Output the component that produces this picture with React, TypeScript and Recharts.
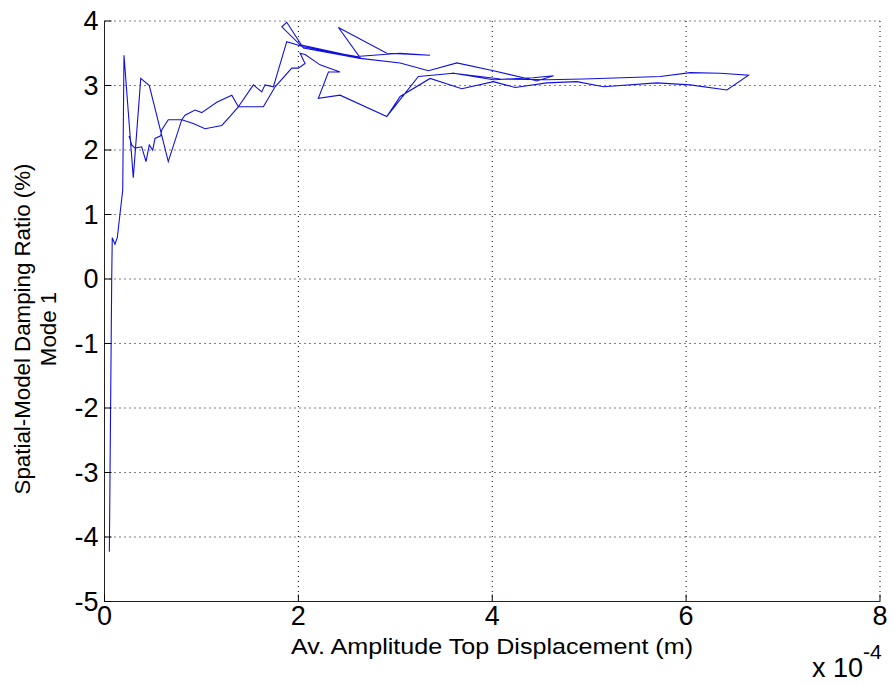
import React from "react";
import { LineChart, Line, XAxis, YAxis, CartesianGrid } from "recharts";

const xValues = [
  0.05, 0.074, 0.08, 0.108, 0.132, 0.188, 0.201, 0.297, 0.374, 0.462, 0.658, 0.797,
  0.831, 0.934, 1.003, 1.158, 1.313, 1.381, 1.536, 1.622, 1.656, 1.742, 1.88, 2.052,
  2.293, 2.603, 3.05, 3.359, 2.912, 2.413, 2.637, 2.018, 1.829, 1.88, 2.052, 2.637,
  3.05, 3.342, 3.635, 4.012, 4.46, 4.632, 4.422, 4.012, 3.6, 3.238, 2.912, 3.05,
  3.359, 3.686, 4.012, 4.236, 4.563, 4.873, 5.148, 5.699, 6.042, 6.421, 6.644, 6.352,
  6.042, 5.733, 4.941, 4.563, 4.082, 3.6, 3.238, 2.912, 2.43, 2.206, 2.31, 2.43,
  2.224, 2.069, 2.018, 2.069, 2.0, 1.932, 1.76, 1.639, 1.381, 1.295, 1.21, 1.037,
  0.916, 0.797, 0.658, 0.59, 0.58, 0.521, 0.497, 0.462, 0.428, 0.384, 0.315, 0.281,
  0.253,
];
const yValues = [
  -4.23, -0.05, 0.64, 0.54, 0.64, 1.38, 3.47, 1.57, 3.11, 3.0, 1.82, 2.47,
  2.54, 2.62, 2.58, 2.74, 2.85, 2.67, 3.01, 2.9, 3.01, 2.98, 3.68, 3.6,
  3.53, 3.45, 3.5, 3.47, 3.5, 3.9, 3.43, 3.63, 3.91, 3.98, 3.58, 3.42,
  3.35, 3.23, 3.35, 3.23, 3.07, 3.15, 3.12, 3.09, 3.19, 3.14, 2.52, 2.83,
  3.11, 2.95, 3.06, 2.97, 3.04, 3.06, 2.98, 3.04, 3.01, 2.93, 3.16, 3.19,
  3.2, 3.14, 3.1, 3.09, 3.1, 3.19, 3.14, 2.52, 2.85, 2.8, 3.21, 3.21,
  3.32, 3.48, 3.5, 3.34, 3.27, 3.27, 2.98, 2.67, 2.67, 2.52, 2.38, 2.33,
  2.41, 2.47, 2.47, 2.31, 2.22, 2.18, 2.0, 2.08, 1.82, 2.05, 2.03, 2.08,
  2.22,
];
const xTicks = [0, 2, 4, 6, 8];
const yTicks = [-5, -4, -3, -2, -1, 0, 1, 2, 3, 4];
const xLabel = "Av. Amplitude Top Displacement (m)";
const yLabel1 = "Spatial-Model Damping Ratio (%)";
const yLabel2 = "Mode 1";

const data = xValues.map((x, i) => ({ x, y: yValues[i] }));

const FONT = "'Liberation Sans', Arial, sans-serif";
const W = 879;
const H = 677;

const XTick = (props: any) => {
  const { x, y, payload } = props;
  return (
    <g>
      <line x1={x} y1={y} x2={x} y2={y - 7} stroke="#000" strokeWidth={1} />
      <text x={x} y={y + 14} textAnchor="middle" dominantBaseline="central" fontFamily={FONT} fontSize={27} fill="#000">
        {payload.value}
      </text>
    </g>
  );
};

const YTick = (props: any) => {
  const { x, y, payload } = props;
  return (
    <g>
      <line x1={x} y1={y} x2={x + 7} y2={y} stroke="#000" strokeWidth={1} />
      <text x={x - 6} y={y} textAnchor="end" dominantBaseline="central" fontFamily={FONT} fontSize={27} fill="#000">
        {payload.value}
      </text>
    </g>
  );
};

export default function App() {
  return (
    <div style={{ position: "relative", width: W, height: H, background: "#fff" }}>
      <style>{`.recharts-surface { overflow: visible; }`}</style>
      <LineChart width={W} height={H} data={data} margin={{ top: 13, right: 7, left: 0, bottom: 8 }}>
        <CartesianGrid stroke="#000" strokeDasharray="1 4" strokeWidth={1} />
        <XAxis
          type="number"
          dataKey="x"
          domain={[0, 8]}
          ticks={xTicks}
          height={75.5}
          tickSize={0}
          tickMargin={0}
          tickLine={false}
          axisLine={{ stroke: "#222" }}
          tick={<XTick />}
          interval={0}
        />
        <YAxis
          type="number"
          dataKey="y"
          domain={[-5, 4]}
          ticks={yTicks}
          width={96.5}
          tickSize={0}
          tickMargin={0}
          tickLine={false}
          axisLine={{ stroke: "#222" }}
          tick={<YTick />}
          interval={0}
        />
        <Line
          type="linear"
          dataKey="y"
          stroke="#1010e0"
          strokeWidth={1.1}
          dot={false}
          isAnimationActive={false}
        />
      </LineChart>
      <svg width={W} height={H} style={{ position: "absolute", left: 0, top: 0, pointerEvents: "none", overflow: "visible" }}>
        <text x={484} y={638} textAnchor="middle" dominantBaseline="central" fontFamily={FONT} fontSize={22.5} fill="#000" textLength={402} lengthAdjust="spacingAndGlyphs">
          {xLabel}
        </text>
        <text transform="translate(14,321) rotate(-90)" textAnchor="middle" dominantBaseline="central" fontFamily={FONT} fontSize={22.3} fill="#000">
          {yLabel1}
        </text>
        <text transform="translate(40,321) rotate(-90)" textAnchor="middle" dominantBaseline="central" fontFamily={FONT} fontSize={22.3} fill="#000">
          {yLabel2}
        </text>
        <text x={804} y={660} dominantBaseline="central" fontFamily={FONT} fontSize={27} fill="#000">
          x 10
        </text>
        <text x={855} y={643} dominantBaseline="central" fontFamily={FONT} fontSize={21} fill="#000">
          -4
        </text>
      </svg>
    </div>
  );
}
